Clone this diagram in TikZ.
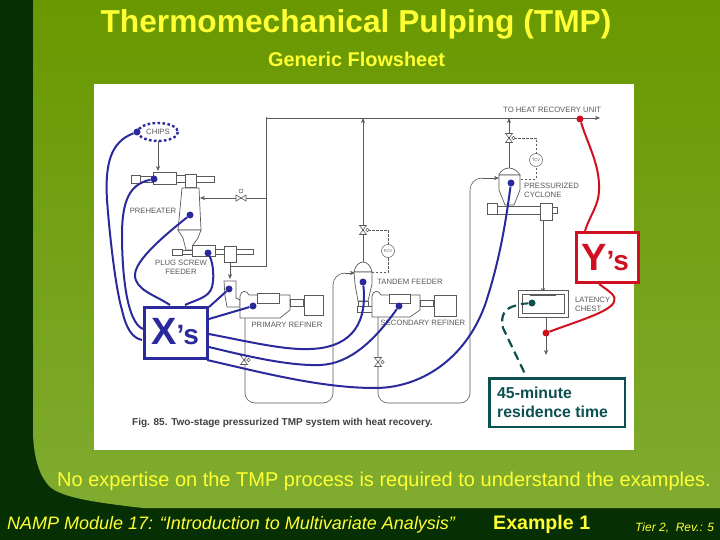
\documentclass[tikz,border=0pt]{standalone}
\usepackage{fontspec}
\setmainfont{Liberation Sans}
\usepackage{xcolor}
\usetikzlibrary{positioning,arrows.meta,calc}
\definecolor{darkgrn}{HTML}{063004}
\definecolor{topgrn}{HTML}{699800}
\definecolor{botgrn}{HTML}{80AB30}
\definecolor{slideyel}{HTML}{FFFF33}
\definecolor{xblue}{HTML}{2A2A9C}
\definecolor{yred}{HTML}{D01020}
\definecolor{resteal}{HTML}{0C5050}
\definecolor{pen}{HTML}{5A5A5A}
\newcommand{\fs}[1]{\fontsize{#1}{#1}\selectfont}
\tikzset{
  slidetxt/.style={text=slideyel,inner sep=0pt},
  tag/.style={text=pen,inner sep=0pt,font=\fs{7.7},align=left},
  pipe/.style={draw=pen,line width=0.6pt},
  flow/.style={pipe,-{Stealth[length=5pt,width=4pt]}},
  ctrl/.style={pipe,dashed,dash pattern=on 2.5pt off 1.5pt},
  equip/.style={draw=pen,line width=0.7pt,fill=white},
  xdot/.style={circle,fill=xblue,inner sep=0pt,minimum size=7pt},
  xline/.style={xblue,line width=2pt},
  ydot/.style={circle,fill=yred,inner sep=0pt,minimum size=7pt},
  yline/.style={yred,line width=2pt},
  instr/.style={circle,draw=pen,line width=0.5pt,fill=white,minimum size=13pt,inner sep=0pt,text=pen,font=\fs{4}},
}
\begin{document}
\begin{tikzpicture}[x=1pt,y=-1pt]
  \useasboundingbox (0,0) rectangle (720,540);
  % slide background
  \fill[darkgrn] (0,0) rectangle (720,540);
  \shade[top color=topgrn,bottom color=botgrn] (33,0) -- (720,0) -- (720,508) -- (143,508)
     .. controls (90,502) and (62,497) .. (50,487) .. controls (38,475) and (34,455) .. (33,435) -- cycle;
  \fill[white] (94,84) rectangle (634,450);

  % piping
  \draw[flow] (158,141) -- (158,171);
  \draw[pipe] (230,266) -- (266,266) -- (266,117);
  \draw[pipe] (266,118) -- (363,118);
  \draw[flow] (266,118) -- (600,118);
  \draw[flow] (266,198) -- (200,198);
  \draw[flow] (363,262) -- (363,118);
  \draw[flow] (509,168) -- (509,118);
  \draw[flow] (230,262) -- (230,279);
  \draw[pipe] (245,315) -- (245,393) arc[start angle=180,end angle=90,radius=10] -- (323,403) arc[start angle=90,end angle=0,radius=10] -- (333,285) arc[start angle=180,end angle=270,radius=12];
  \draw[flow] (345,273) -- (355,273);
  \draw[pipe] (378,317) -- (378,393) arc[start angle=180,end angle=90,radius=10] -- (460,403) arc[start angle=90,end angle=0,radius=10] -- (470,190) arc[start angle=180,end angle=270,radius=12];
  \draw[flow] (482,178) -- (499,178);
  \draw[flow] (543,220) -- (543,293);
  \draw[flow] (546,317) -- (546,355);
  \draw[ctrl] (514,138) -- (536,138) -- (536,179) -- (520,179);
  \draw[ctrl] (368,230) -- (388,230) -- (388,272) -- (372,272);
  \node[instr] (tcv) at (536,160) {TCV};
  \node[instr] (pcv) at (388,251) {PCV};
  % valves
  \foreach \vx/\vy in {363/230,509/138,244/360,378/362} {
    \draw[equip,line width=0.6pt] (\vx-3.5,\vy-4.5) -- (\vx+3.5,\vy-4.5) -- (\vx-3.5,\vy+4.5) -- (\vx+3.5,\vy+4.5) -- cycle;
    \draw[equip,line width=0.5pt] (\vx+4.5,\vy) circle[radius=1.8];
  }
  \draw[equip,line width=0.6pt] (236,195) -- (236,201) -- (246,195) -- (246,201) -- cycle;
  \draw[equip,line width=0.5pt] (241,191) circle[radius=2];

  % upper screw and preheater
  \draw[equip] (131,175) rectangle (140,183);
  \draw[equip] (140,176) rectangle (153,182);
  \draw[equip] (153,172) rectangle (176,184);
  \draw[equip] (176,175) rectangle (185,182);
  \draw[equip] (185,174) rectangle (196,187);
  \draw[equip] (196,176) rectangle (214,182);
  \draw[equip] (182,188) -- (199,188) -- (201,230) -- (178,230) -- cycle;
  \draw[equip] (178,230) -- (201,230) -- (198,238) -- (193,245) -- (193,250) -- (186,250) -- (183,238) -- cycle;
  % plug screw
  \draw[equip] (172,249) rectangle (182,255);
  \draw[equip] (182,250) rectangle (192,254);
  \draw[equip] (192,245) rectangle (215,256);
  \draw[equip] (215,249) rectangle (224,254);
  \draw[equip] (224,246) rectangle (236,262);
  \draw[equip] (236,249) rectangle (253,254);
  % small vessel and primary refiner
  \draw[equip] (224,281) -- (236,281) -- (236,298) -- (240,300) -- (240,307) -- (227,307) -- (225,296) -- cycle;
  \draw[equip] (240,296) .. controls (241,290) and (247,290) .. (249,295) -- (290,295) -- (290,310) -- (280,318) -- (240,318) -- cycle;
  \draw[equip] (257,293) rectangle (279,303);
  \draw[equip] (290,299) rectangle (303,306);
  \draw[equip] (304,295) rectangle (323,315);
  % tandem feeder
  \draw[equip] (354,272) .. controls (355,265) and (360,262) .. (363,262) .. controls (366,262) and (371,265) .. (372,272) -- cycle;
  \draw[equip] (354,272) -- (372,272) -- (372,284) -- (368,301) -- (358,301) -- (355,284) -- cycle;
  \draw[equip] (358,301) rectangle (368,306);
  % secondary refiner
  \draw[equip] (357,306) rectangle (373,312);
  \draw[equip] (372,296) .. controls (373,290) and (379,290) .. (381,295) -- (420,295) -- (420,310) -- (410,317) -- (372,317) -- cycle;
  \draw[equip] (389,294) rectangle (410,303);
  \draw[equip] (420,300) rectangle (433,306);
  \draw[equip] (434,295) rectangle (456,316);
  % cyclone
  \draw[equip] (499,175) .. controls (500,171) and (505,168) .. (509,168) .. controls (513,168) and (518,171) .. (520,175) -- cycle;
  \draw[equip] (499,175) -- (520,175) -- (520,190) -- (514,205) -- (505,205) -- (499,190) -- cycle;
  \draw[equip] (487,203) rectangle (497,214);
  \draw[equip] (497,206) rectangle (540,214);
  \draw[equip] (540,203) rectangle (552,220);
  \draw[equip] (552,207) rectangle (557,213);
  % latency chest
  \draw[equip] (518,290) rectangle (568,317);
  \draw[equip] (522,294) rectangle (564,313);
  \draw[pen,line width=1pt] (530,295) -- (556,295);

  % flowsheet labels
  \node[tag] (chipslbl) at (158,132) {CHIPS};
  \node[tag] (preheatlbl) at (153,211) {PREHEATER};
  \node[tag,align=center,fill=white,inner sep=1pt] (pluglbl) at (181,267) {PLUG SCREW\\[1pt]FEEDER};
  \node[tag] (tandemlbl) at (410,282) {TANDEM FEEDER};
  \node[tag] (primlbl) at (287,325) {PRIMARY REFINER};
  \node[tag] (seclbl) at (423,323) {SECONDARY REFINER};
  \node[tag,anchor=west] (heatlbl) at (503,110) {TO HEAT RECOVERY UNIT};
  \node[tag,anchor=west] (cyclbl) at (524,190.5) {PRESSURIZED\\[1pt]CYCLONE};
  \node[tag,anchor=west] (latlbl) at (575,304.5) {LATENCY\\[1pt]CHEST};
  \node[inner sep=0pt,anchor=west,text=black!75,font=\fs{10}\bfseries] (figlbl) at (132,423) {Fig. 85. Two-stage pressurized TMP system with heat recovery.};

  % slide texts
  \node[slidetxt,font=\fs{31.7}\bfseries] (title) at (356,24) {Thermomechanical Pulping (TMP)};
  \node[slidetxt,font=\fs{19.9}\bfseries] (subtitle) at (356.5,59) {Generic Flowsheet};
  \node[slidetxt,font=\fs{20},anchor=west] (note) at (57,481) {No expertise on the TMP process is required to understand the examples.};
  \node[slidetxt,font=\fs{18}\itshape,anchor=west] (module) at (7,525) {NAMP Module 17: “Introduction to Multivariate Analysis”};
  \node[slidetxt,font=\fs{19.6}\bfseries,anchor=west] (example) at (493,524) {Example 1};
  \node[slidetxt,font=\fs{12}\itshape,anchor=west] (tier) at (635,528) {Tier 2,\ \ Rev.: 5};

  % X's and their tags
  \node[draw=xblue,line width=3pt,fill=white,minimum width=63pt,minimum height=51pt,inner sep=0pt] (xbox) at (176,333) {};
  \node[text=xblue,inner sep=0pt,font=\fs{38}\bfseries] (xtxt) at (175,332) {X\fs{28}’s};
  \node[xdot] (chipsdot) at (137,132) {};
  \node[xdot] (screwdot) at (154,179) {};
  \node[xdot] (heatdot) at (190,215) {};
  \node[xdot] (plugdot) at (208,253) {};
  \node[xdot] (vesseldot) at (229,289) {};
  \node[xdot] (primdot) at (253,306) {};
  \node[xdot] (tanddot) at (363,282) {};
  \node[xdot] (secdot) at (399,306) {};
  \node[xdot] (cycdot) at (511,183) {};
  \draw[xblue,line width=2.4pt,dash pattern=on 2.6pt off 2.4pt] (158,132) ellipse[x radius=20,y radius=9];
  \draw[xline] (chipsdot) .. controls (110,142) and (105,165) .. (107,200) .. controls (110,240) and (116,290) .. (122,310) .. controls (126,328) and (132,338) .. (142,340);
  \draw[xline] (screwdot) .. controls (130,184) and (122,200) .. (122,235) .. controls (122,270) and (126,322) .. (143,329);
  \draw[xline] (heatdot) .. controls (165,235) and (135,260) .. (135,275) .. controls (135,290) and (155,295) .. (170,305);
  \draw[xline] (plugdot) .. controls (214,265) and (214,280) .. (212,287) .. controls (209,298) and (195,300) .. (185,305);
  \draw[xline] (209,307) -- (vesseldot);
  \draw[xline] (209,319) -- (primdot);
  \draw[xline] (209,334) .. controls (255,343) and (285,350) .. (310,349) .. controls (345,348) and (368,330) .. (tanddot);
  \draw[xline] (209,347) .. controls (250,357) and (290,366) .. (320,365) .. controls (350,364) and (375,340) .. (secdot);
  \draw[xline] (207,360) .. controls (260,372) and (320,388) .. (375,388) .. controls (420,388) and (465,360) .. (485,305) .. controls (500,260) and (506,220) .. (cycdot);

  % Y's and their tags
  \node[ydot] (heatred) at (580,119) {};
  \node[ydot] (outred) at (546,333) {};
  \node[draw=yred,line width=3pt,fill=white,minimum width=62pt,minimum height=50pt,inner sep=0pt] (ybox) at (607.5,257.5) {};
  \node[text=yred,inner sep=0pt,font=\fs{38}\bfseries] (ytxt) at (605,258) {Y\fs{28}’s};
  \draw[yline] (heatred) .. controls (588,145) and (600,165) .. (599,190) .. controls (599,205) and (590,215) .. (585,231);
  \draw[yline] (599,284) .. controls (610,292) and (617,296) .. (614,302) .. controls (610,312) and (575,322) .. (outred);

  % residence time
  \node[draw=resteal,line width=2.5pt,fill=white,minimum width=135.5pt,minimum height=48.5pt,inner sep=0pt] (resbox) at (557,402.5) {};
  \node[text=resteal,inner sep=0pt,align=left,anchor=west,font=\fs{15.8}\bfseries] (restxt) at (497,402.5) {45-minute\\[3pt]residence time};
  \node[circle,fill=resteal,inner sep=0pt,minimum size=7pt] (chestdot) at (532,303) {};
  \coordinate (chestbend) at (521,304);
  \coordinate (resend) at (526,376);
  \draw[resteal,line width=2pt] (chestdot) -- (chestbend);
  \draw[resteal,line width=2.2pt,dash pattern=on 9pt off 5pt] (516,305.5) .. controls (505,308) and (500,315) .. (503,328) -- (resend);
\end{tikzpicture}
\end{document}
